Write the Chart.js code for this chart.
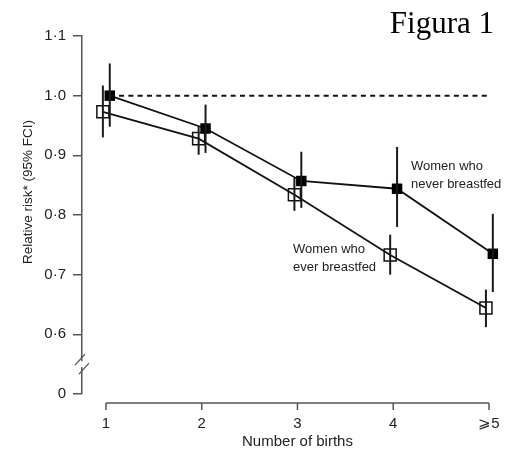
<!DOCTYPE html>
<html>
<head>
<meta charset="utf-8">
<script src="https://cdn.jsdelivr.net/npm/chart.js@4.4.1/dist/chart.umd.min.js"></script>
<style>
  html, body { margin: 0; padding: 0; background: #fff; }
  #wrap { width: 526px; height: 451px; position: relative; }
</style>
</head>
<body>
<div id="wrap"><canvas id="myChart"></canvas></div>
<script>
// births categories (x = 1..5)
const births = [1, 2, 3, 4, 5];
const birthLabels = ['1', '2', '3', '4', '\u2A7E5'];

// relative risk, women who never breastfed (filled squares)
const neverRR = [1.0, 0.945, 0.857, 0.844, 0.735];
const neverLow = [0.948, 0.904, 0.812, 0.780, 0.671];
const neverHigh = [1.054, 0.985, 0.906, 0.914, 0.802];

// relative risk, women who ever breastfed (open squares)
const everRR = [0.973, 0.928, 0.834, 0.733, 0.644];
const everLow = [0.930, 0.901, 0.807, 0.700, 0.612];
const everHigh = [1.017, 0.948, 0.862, 0.767, 0.675];

// y ticks (axis is broken below 0.6, bottom tick is labelled 0)
const yTicks = [0.5, 0.6, 0.7, 0.8, 0.9, 1.0, 1.1];
const yTickLabels = ['0', '0\u00B76', '0\u00B77', '0\u00B78', '0\u00B79', '1\u00B70', '1\u00B71'];
const refLevel = 1.0;

const dodge = 0.04;
const sans = "'Liberation Sans', Arial, sans-serif";

const neverPts = births.map((b, i) => ({ x: b + dodge, y: neverRR[i] }));
const everPts = births.map((b, i) => ({ x: b - dodge * 0.8, y: everRR[i] }));

const extras = {
  id: 'extras',
  afterDatasetsDraw(chart) {
    const { ctx, scales: { x, y }, chartArea } = chart;
    ctx.save();
    // error bars
    ctx.strokeStyle = '#1a1a1a';
    ctx.lineWidth = 2;
    const bars = (xs, lo, hi) => {
      xs.forEach((p, i) => {
        const px = x.getPixelForValue(p.x);
        ctx.beginPath();
        ctx.moveTo(px, y.getPixelForValue(lo[i]));
        ctx.lineTo(px, y.getPixelForValue(hi[i]));
        ctx.stroke();
      });
    };
    bars(neverPts, neverLow, neverHigh);
    bars(everPts, everLow, everHigh);

    // separate x axis line below the plot
    const ay = chartArea.bottom + 9;
    const x0 = x.getPixelForValue(births[0]);
    const x1 = x.getPixelForValue(births[births.length - 1]);
    ctx.strokeStyle = '#555';
    ctx.lineWidth = 1.5;
    ctx.beginPath();
    ctx.moveTo(x0, ay);
    ctx.lineTo(x1, ay);
    births.forEach(b => {
      const px = x.getPixelForValue(b);
      ctx.moveTo(px, ay);
      ctx.lineTo(px, ay + 7);
    });
    ctx.stroke();

    // axis break
    const by = y.getPixelForValue(0.55);
    const ax = chartArea.left;
    ctx.fillStyle = '#fff';
    ctx.fillRect(ax - 2, by - 3, 4, 6);
    ctx.strokeStyle = '#555';
    ctx.lineWidth = 1.3;
    ctx.beginPath();
    ctx.moveTo(ax - 7, by + 1);
    ctx.lineTo(ax + 3, by - 10);
    ctx.moveTo(ax - 3, by + 10);
    ctx.lineTo(ax + 7, by - 1);
    ctx.stroke();

    // texts
    ctx.fillStyle = '#222';
    ctx.font = '13px ' + sans;
    ctx.textAlign = 'left';
    ctx.textBaseline = 'middle';
    ctx.fillText('Women who', 411, 166);
    ctx.fillText('never breastfed', 411, 184);
    ctx.fillText('Women who', 293, 249);
    ctx.fillText('ever breastfed', 293, 267);

    ctx.font = '15px ' + sans;
    ctx.textAlign = 'center';
    ctx.fillText('Number of births', x.getPixelForValue(3), 442);

    ctx.save();
    ctx.translate(28, 192);
    ctx.rotate(-Math.PI / 2);
    ctx.font = '13.5px ' + sans;
    ctx.fillText('Relative risk* (95% FCI)', 0, 0);
    ctx.restore();

    ctx.fillStyle = '#000';
    ctx.font = "31px 'Liberation Serif', 'Times New Roman', serif";
    ctx.textAlign = 'right';
    ctx.textBaseline = 'alphabetic';
    ctx.fillText('Figura 1', 494, 33);
    ctx.restore();
  }
};

new Chart(document.getElementById('myChart'), {
  type: 'line',
  data: {
    datasets: [
      {
        label: 'reference',
        data: [{ x: births[0] + dodge, y: refLevel }, { x: births[births.length - 1], y: refLevel }],
        borderColor: '#111',
        borderWidth: 2,
        borderDash: [5, 4.3],
        pointRadius: 0,
        clip: false
      },
      {
        label: 'Women who never breastfed',
        data: neverPts,
        borderColor: '#111',
        borderWidth: 1.8,
        pointStyle: 'rect',
        pointRadius: 7.4,
        pointBackgroundColor: '#000',
        pointBorderColor: '#000',
        pointBorderWidth: 0,
        clip: false
      },
      {
        label: 'Women who ever breastfed',
        data: everPts,
        borderColor: '#111',
        borderWidth: 1.8,
        pointStyle: 'rect',
        pointRadius: 8.5,
        pointBackgroundColor: 'transparent',
        pointBorderColor: '#111',
        pointBorderWidth: 1.5,
        clip: false
      }
    ]
  },
  options: {
    responsive: true,
    maintainAspectRatio: false,
    animation: false,
    layout: { padding: { top: 36, right: 37, left: 0, bottom: 0 } },
    scales: {
      x: {
        type: 'linear',
        min: 0.75,
        max: 5,
        afterBuildTicks: (scale) => { scale.ticks = births.map(v => ({ value: v })); },
        afterFit: (scale) => { scale.height = 57; },
        grid: { display: false },
        border: { display: false },
        ticks: {
          padding: 13,
          color: '#222',
          font: { family: sans, size: 15 },
          callback: (v) => birthLabels[births.indexOf(v)]
        }
      },
      y: {
        min: 0.5,
        max: 1.1,
        afterBuildTicks: (scale) => { scale.ticks = yTicks.map(v => ({ value: v })); },
        afterFit: (scale) => { scale.width = 82; },
        grid: { drawOnChartArea: false, drawTicks: true, tickLength: 9, color: '#555', lineWidth: 1.5 },
        border: { display: true, color: '#555', width: 1.5 },
        ticks: {
          padding: 7,
          color: '#222',
          font: { family: sans, size: 15 },
          callback: (v) => yTickLabels[yTicks.findIndex(t => Math.abs(t - v) < 1e-6)]
        }
      }
    },
    plugins: {
      legend: { display: false },
      tooltip: { enabled: false }
    }
  },
  plugins: [extras]
});
</script>
</body>
</html>
